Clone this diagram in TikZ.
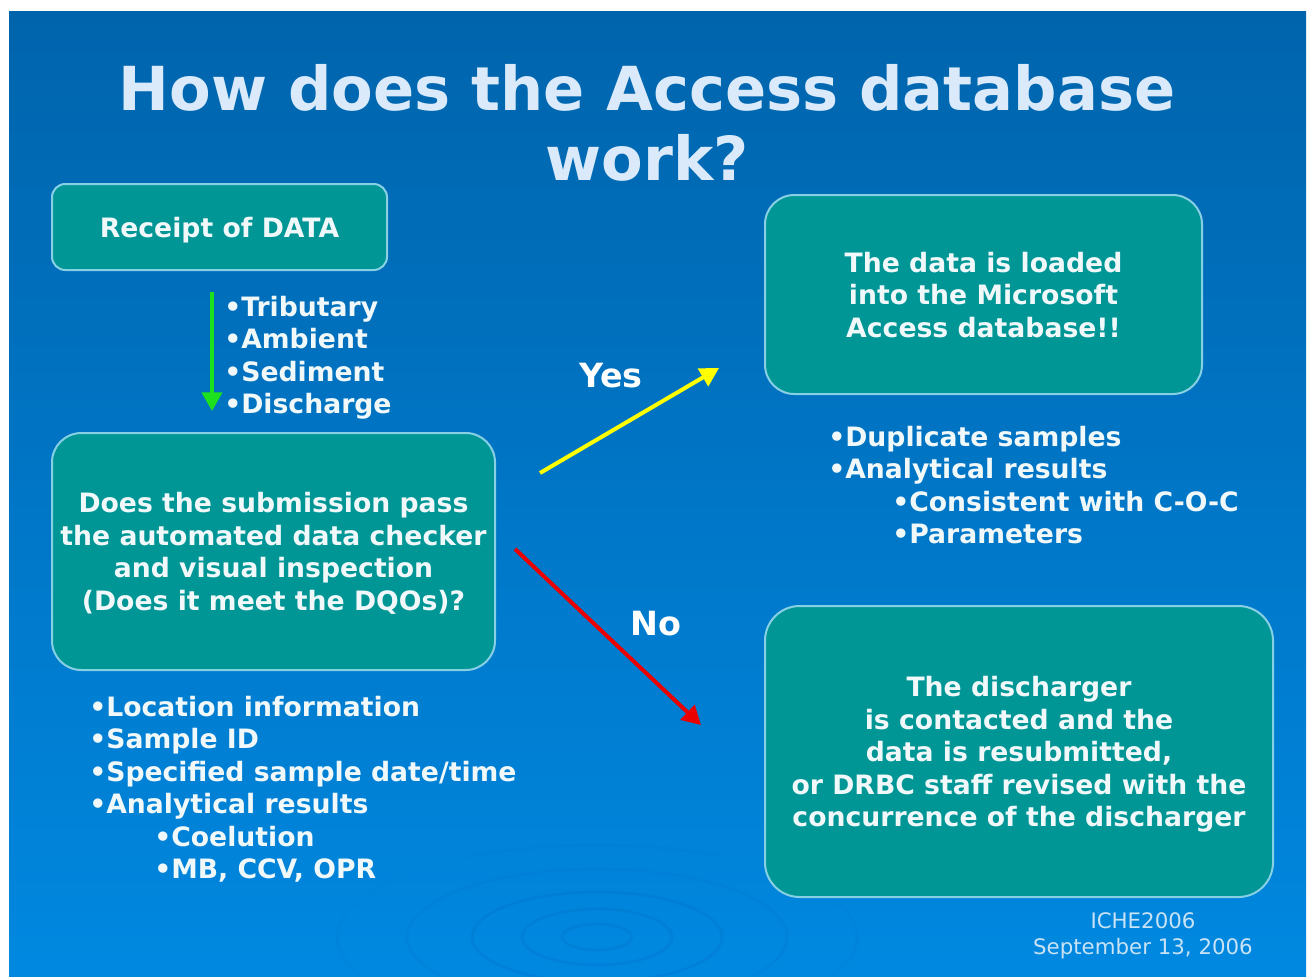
\documentclass[tikz,border=0pt]{standalone}
\usepackage{fontspec}
\setmainfont{DejaVu Sans}
\usetikzlibrary{arrows.meta}
\definecolor{bgtop}{RGB}{0,100,172}
\definecolor{bgbot}{RGB}{0,136,224}
\definecolor{boxfill}{RGB}{0,150,150}
\definecolor{boxline}{RGB}{135,208,228}
\definecolor{titlecol}{RGB}{218,234,250}
\definecolor{txt}{RGB}{240,248,250}
\definecolor{footcol}{RGB}{200,226,246}
\definecolor{grn}{RGB}{30,225,30}
\definecolor{yel}{RGB}{255,255,0}
\definecolor{rd}{RGB}{235,0,0}
\definecolor{ripplecol}{RGB}{0,108,196}
\tikzset{
  box/.style={draw=boxline, line width=1.5pt, fill=boxfill, inner sep=0pt,
    align=center, text=txt, text depth=0pt, font=\bfseries\fontsize{20}{24.4}\selectfont},
  item/.style={anchor=base west, inner sep=0pt, text=txt,
    font=\bfseries\fontsize{20}{24}\selectfont},
  lab/.style={text=white, inner sep=0pt, font=\bfseries\fontsize{25}{30}\selectfont},
  ttl/.style={anchor=base, inner sep=0pt, text=titlecol,
    font=\bfseries\fontsize{45.5}{52}\selectfont},
  foot/.style={anchor=base, inner sep=0pt, text=footcol,
    font=\fontsize{16}{19}\selectfont},
  flow/.style={line width=3pt, -{Triangle[width=15pt,length=14pt]}},
  ripple/.style={draw=ripplecol, line width=2pt, opacity=0.25},
}
\begin{document}
\begin{tikzpicture}[x=0.75pt, y=-0.75pt]
\useasboundingbox (0,0) rectangle (1308,976);
\fill[white] (0,0) rectangle (1308,976);
\shade[top color=bgtop, bottom color=bgbot] (9,11) rectangle (1306,976);
% ripples
\begin{scope}
\clip (9,11) rectangle (1306,976);
\draw[ripple] (597,937) ellipse [x radius=35, y radius=13];
\draw[ripple] (597,937) ellipse [x radius=75, y radius=28];
\draw[ripple] (597,937) ellipse [x radius=125, y radius=45];
\draw[ripple, opacity=0.15] (597,937) ellipse [x radius=190, y radius=68];
\draw[ripple, opacity=0.08] (597,937) ellipse [x radius=260, y radius=92];
\end{scope}
% title
\node[ttl] (title1) at (647,110) {How does the Access database};
\node[ttl] (title2) at (647,180) {work?};
% boxes
\node[box, rounded corners=10pt, minimum width=251.25pt, minimum height=64.5pt] (receipt)
  at (219.5,227) {Receipt of DATA};
\node[box, rounded corners=22pt, minimum width=332.25pt, minimum height=177.75pt] (check)
  at (273.5,551.5)
  {Does the submission pass\\the automated data checker\\and visual inspection\\(Does it meet the DQOs)?};
\node[box, rounded corners=22pt, minimum width=327.75pt, minimum height=149.25pt] (loaded)
  at (983.5,294.5)
  {The data is loaded\\into the Microsoft\\Access database!!};
\node[box, rounded corners=26pt, minimum width=381pt, minimum height=218.25pt] (contact)
  at (1019,751.5)
  {The discharger\\is contacted and the\\data is resubmitted,\\or DRBC staff revised with the\\concurrence of the discharger};
% data types
\foreach \t [count=\i from 0] in {Tributary,Ambient,Sediment,Discharge}
  \node[item] (type\i) at (224,{316+32.5*\i}) {•\t};
% right bullets
\node[item] (r0) at (828,446) {•Duplicate samples};
\node[item] (r1) at (828,478.5) {•Analytical results};
\node[item] (r2) at (892,511) {•Consistent with C-O-C};
\node[item] (r3) at (892,543.5) {•Parameters};
% left bottom bullets
\node[item] (l0) at (89,716) {•Location information};
\node[item] (l1) at (89,748.5) {•Sample ID};
\node[item] (l2) at (89,781) {•Specified sample date/time};
\node[item] (l3) at (89,813.5) {•Analytical results};
\node[item] (l4) at (154,846) {•Coelution};
\node[item] (l5) at (154,878.5) {•MB, CCV, OPR};
% arrows
\coordinate (gs) at (212,292);
\coordinate (ge) at (212,411);
\coordinate (ys) at (540,473);
\coordinate (ye) at (719,368);
\coordinate (rs) at (515,549);
\coordinate (re) at (701,725);
\draw[flow, grn] (gs) -- (ge);
\draw[flow, yel] (ys) -- (ye);
\draw[flow, rd] (rs) -- (re);
\node[lab] (yes) at (611,376) {Yes};
\node[lab] (no) at (656,624) {No};
% footer
\node[foot] (f1) at (1143,928) {ICHE2006};
\node[foot] (f2) at (1143,954) {September 13, 2006};
\end{tikzpicture}
\end{document}
